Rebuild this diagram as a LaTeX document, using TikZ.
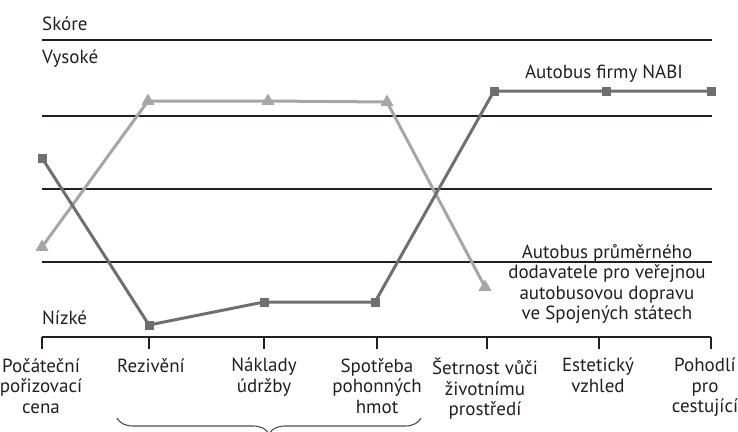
\documentclass[tikz,border=0pt]{standalone}
\usepackage{fontspec}
\setmainfont{PT Sans}
\usetikzlibrary{shapes.geometric,decorations.pathreplacing}
\definecolor{nabigray}{HTML}{6F6F6F}
\definecolor{avggray}{HTML}{A6A6A6}
\definecolor{inkgray}{HTML}{231F20}
\begin{document}
\begin{tikzpicture}[x=1pt,y=-1pt,
  every node/.style={font=\fontsize{19}{20.5}\selectfont, text=inkgray, inner sep=0pt},
  rule/.style={draw=inkgray, line width=1.2pt},
  nabi/.style={draw=nabigray, line width=3pt, line join=round},
  avg/.style={draw=avggray, line width=3pt, line join=round},
  sqmark/.style={fill=nabigray, minimum size=9pt},
  trimark/.style={fill=avggray, regular polygon, regular polygon sides=3, minimum size=15pt},
  catlabel/.style={anchor=north, align=center}]
\useasboundingbox (0,0) rectangle (738,431);
% score lines and category axis
\foreach \yy in {40,116,189,262} \draw[rule] (42,\yy) -- (712,\yy);
\draw[rule] (42,337) -- (711,337);
\foreach \xx in {42,149,264,377,487,599,711} \draw[rule] (\xx,337) -- (\xx,349);
\node[anchor=base west] (skore) at (42,30) {Skóre};
\node[anchor=base west] (vysoke) at (42,63) {Vysoké};
\node[anchor=base west] (nizke) at (42,324) {Nízké};
% data points
\foreach \name/\xx/\yy in {a1/42/158, a2/149/325, a3/264/302, a4/375/302, a5/494/91, a6/606/91, a7/711/91}
  \coordinate (\name) at (\xx,\yy);
\foreach \name/\xx/\yy in {b1/42/247, b2/148/101, b3/268/101, b4/387/102, b5/485/287}
  \coordinate (\name) at (\xx,\yy);
\draw[avg] (b1) -- (b2) -- (b3) -- (b4) -- (b5);
\foreach \p in {b1,b2,b3,b4,b5} \node[trimark] (\p m) at (\p) {};
\draw[nabi] (a1) -- (a2) -- (a3) -- (a4) -- (a5) -- (a6) -- (a7);
\foreach \p in {a1,a2,a3,a4,a5,a6,a7} \node[sqmark] (\p m) at (\p) {};
\node[anchor=base] (nabi) at (604,78) {Autobus firmy NABI};
\node[anchor=north, align=center] (prumer) at (607,244)
  {Autobus průměrného\\dodavatele pro veřejnou\\autobusovou dopravu\\ve Spojených státech};
% categories
\node[catlabel] (c1) at (41,358) {Počáteční\\pořizovací\\cena};
\node[catlabel] (c2) at (151,358) {Rezivění};
\node[catlabel] (c3) at (264,358) {Náklady\\údržby};
\node[catlabel] (c4) at (377,358) {Spotřeba\\pohonných\\hmot};
\node[catlabel] (c5) at (485,358) {Šetrnost vůči\\životnímu\\prostředí};
\node[catlabel] (c6) at (598,358) {Estetický\\vzhled};
\node[catlabel] (c7) at (705,358) {Pohodlí\\pro\\cestující};
\coordinate (bl) at (117,418);
\coordinate (br) at (421,418);
\draw[draw=inkgray!80, line width=1.1pt, decorate, decoration={brace,mirror,amplitude=16pt}] (bl) -- (br);
\end{tikzpicture}
\end{document}
